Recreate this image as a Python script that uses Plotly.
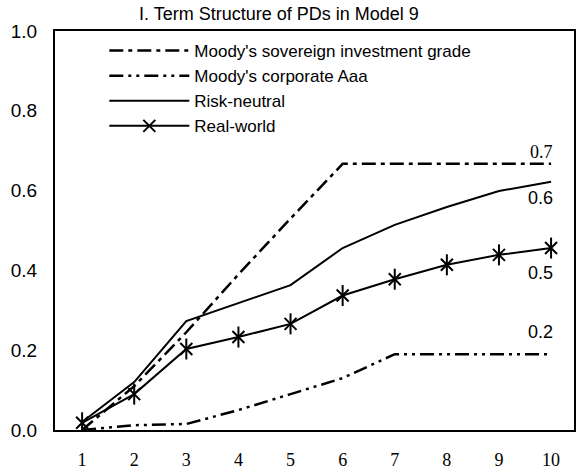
import plotly.graph_objects as go

years = [1, 2, 3, 4, 5, 6, 7, 8, 9, 10]
sovereign_ig = [0.0, 0.11, 0.245, 0.39, 0.53, 0.667, 0.667, 0.667, 0.667, 0.667]
corporate_aaa = [0.0, 0.012, 0.015, 0.05, 0.09, 0.13, 0.19, 0.19, 0.19, 0.19]
risk_neutral = [0.02, 0.12, 0.273, 0.318, 0.363, 0.456, 0.514, 0.559, 0.599, 0.622]
real_world = [0.018, 0.09, 0.203, 0.233, 0.266, 0.337, 0.378, 0.414, 0.439, 0.456]

end_labels = ["0.7", "0.6", "0.5", "0.2"]
y_ticks = [0.0, 0.2, 0.4, 0.6, 0.8, 1.0]

title_text = "I. Term Structure of PDs in Model 9"

SANS = "Liberation Sans, Arial, sans-serif"
SERIF = "Liberation Serif, Times New Roman, serif"

fig = go.Figure()
fig.add_trace(go.Scatter(x=years, y=sovereign_ig, mode="lines",
                         name="Moody's sovereign investment grade",
                         line=dict(color="black", width=2.5, dash="14px,5px,4px,5px")))
fig.add_trace(go.Scatter(x=years, y=corporate_aaa, mode="lines",
                         name="Moody's corporate Aaa",
                         line=dict(color="black", width=2.5, dash="14px,5px,3px,5px,3px,5px")))
fig.add_trace(go.Scatter(x=years, y=risk_neutral, mode="lines",
                         name="Risk-neutral",
                         line=dict(color="black", width=2)))
fig.add_trace(go.Scatter(x=years, y=real_world, mode="lines+markers",
                         name="Real-world", legendgroup="rw",
                         line=dict(color="black", width=2),
                         marker=dict(symbol="x-thin-open", size=12,
                                     color="black", line=dict(color="black", width=2))))
fig.add_trace(go.Scatter(x=years, y=real_world, mode="markers",
                         name="Real-world", legendgroup="rw", showlegend=False,
                         marker=dict(symbol="line-ns-open", size=15,
                                     color="black", line=dict(color="black", width=2))))

# end-of-line labels
label_specs = [
    (end_labels[0], sovereign_ig[-1], "bottom", 0, SERIF),
    (end_labels[1], risk_neutral[-1], "top", -4, SANS),
    (end_labels[2], real_world[-1], "top", -13, SANS),
    (end_labels[3], corporate_aaa[-1], "bottom", 10, SANS),
]
for txt, yv, anchor, shift, fam in label_specs:
    fig.add_annotation(x=years[-1], y=yv, text=txt, showarrow=False,
                       xanchor="right", yanchor=anchor, yshift=shift, xshift=4,
                       font=dict(family=fam, size=18, color="black"))

fig.add_annotation(x=0.5, y=1, xref="paper", yref="paper", xanchor="center", yanchor="bottom",
                   xshift=-36, yshift=5, text=title_text, showarrow=False,
                   font=dict(family=SANS, size=18, color="black"))

fig.update_layout(
    width=576, height=475,
    margin=dict(l=55, r=2, t=31, b=45, autoexpand=False),
    paper_bgcolor="white", plot_bgcolor="white",
    showlegend=True,
    legend=dict(x=0.095, y=0.995, xanchor="left", yanchor="top",
                bgcolor="rgba(0,0,0,0)", borderwidth=0, itemwidth=80,
                font=dict(family=SANS, size=17, color="black"),
                tracegroupgap=0),
    xaxis=dict(range=[0.48, 10.44], tickmode="array", tickvals=years,
               ticktext=[str(v) for v in years], showgrid=False, zeroline=False,
               showline=True, linecolor="black", linewidth=2, mirror=True,
               ticks="", ticklabelstandoff=12, automargin=False,
               tickfont=dict(family=SERIF, size=18, color="black")),
    yaxis=dict(range=[0, 1], tickmode="array", tickvals=y_ticks,
               ticktext=[f"{v:.1f}" for v in y_ticks], showgrid=False, zeroline=False,
               showline=True, linecolor="black", linewidth=2, mirror=True,
               ticks="", ticklabelstandoff=12, automargin=False,
               tickfont=dict(family=SANS, size=19, color="black")),
)

# remove the default page margin so the figure sits at the window's top-left corner
fig.write_html("out.html", config={"displayModeBar": False},
               post_script="document.body.style.margin='0';")
